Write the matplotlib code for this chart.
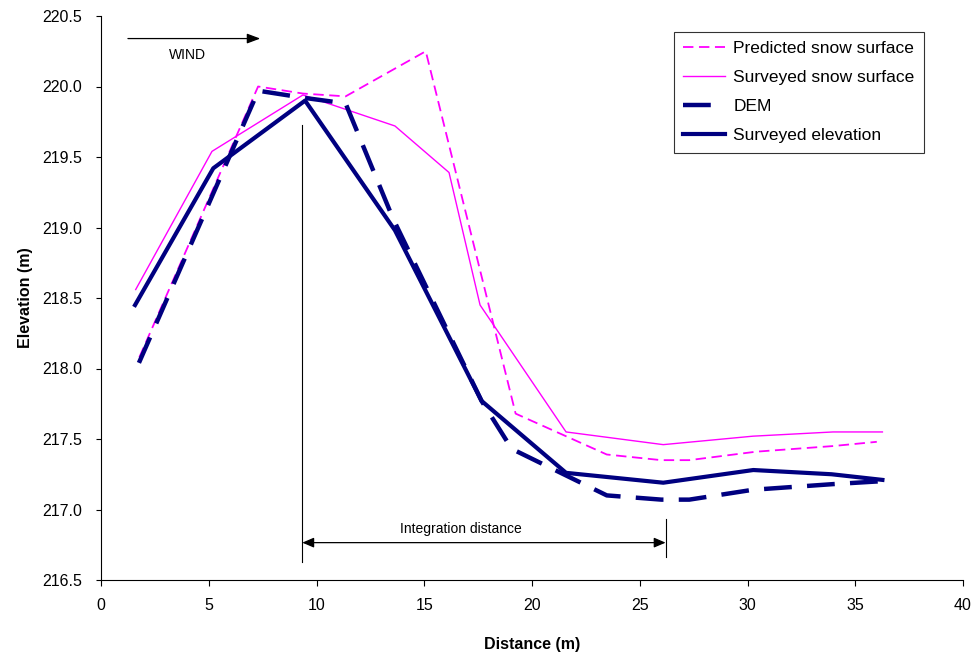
import matplotlib
matplotlib.use("Agg")
import matplotlib.pyplot as plt

plt.rcParams['font.family'] = ['Liberation Sans', 'DejaVu Sans']
plt.rcParams['lines.scale_dashes'] = False

# ---- data ----
pred_x = [1.78, 7.29, 9.37, 11.35, 15.07, 19.24, 23.47, 26.0, 27.3, 30.4, 33.97, 36.0]
pred_y = [218.08, 220.00, 219.95, 219.93, 220.25, 217.68, 217.39, 217.35, 217.35, 217.41, 217.45, 217.48]

snow_x = [1.61, 5.15, 9.37, 13.64, 16.15, 17.59, 21.58, 26.09, 30.25, 33.97, 36.26]
snow_y = [218.56, 219.54, 219.94, 219.72, 219.39, 218.45, 217.55, 217.46, 217.52, 217.55, 217.55]

dem_x = [1.76, 7.3, 9.4, 11.35, 13.56, 17.66, 19.06, 23.47, 26.0, 27.3, 30.25, 33.97, 36.15]
dem_y = [218.04, 219.97, 219.92, 219.88, 219.06, 217.77, 217.43, 217.10, 217.07, 217.07, 217.14, 217.18, 217.20]

elev_x = [1.58, 5.21, 9.47, 13.64, 17.66, 21.58, 26.09, 30.27, 33.9, 36.26]
elev_y = [218.45, 219.42, 219.90, 218.98, 217.77, 217.26, 217.19, 217.28, 217.25, 217.21]

series_labels = ["Predicted snow surface", "Surveyed snow surface", "DEM", "Surveyed elevation"]

x_ticks = [0, 5, 10, 15, 20, 25, 30, 35, 40]
y_ticks = [216.5, 217.0, 217.5, 218.0, 218.5, 219.0, 219.5, 220.0, 220.5]

integ_start, integ_end = 9.34, 26.2

MAGENTA = "#FF00FF"
NAVY = "#000080"

fig = plt.figure(figsize=(9.76, 6.58), dpi=100)
ax = fig.add_axes([101/976, 1 - 580/658, 862/976, 564/658])

ax.plot(pred_x, pred_y, color=MAGENTA, lw=1.3, linestyle=(0, (7.5, 4)), label=series_labels[0])
ax.plot(snow_x, snow_y, color=MAGENTA, lw=1.0, label=series_labels[1])
ax.plot(dem_x, dem_y, color=NAVY, lw=3.2, linestyle=(0, (20, 11)), label=series_labels[2])
ax.plot(elev_x, elev_y, color=NAVY, lw=3.0, label=series_labels[3])

ax.set_xlim(0, 40)
ax.set_ylim(216.5, 220.5)
ax.set_xticks(x_ticks)
ax.set_xticklabels([str(v) for v in x_ticks])
ax.set_yticks(y_ticks)
ax.set_yticklabels([f"{v:.1f}" for v in y_ticks])

for s in ["top", "right"]:
    ax.spines[s].set_visible(False)
for s in ["left", "bottom"]:
    ax.spines[s].set_linewidth(0.8)
    ax.spines[s].set_color("black")

ax.tick_params(axis="x", direction="out", length=4, width=0.8, labelsize=11.5, pad=9)
ax.tick_params(axis="y", direction="out", length=3.5, width=0.8, labelsize=11.5, pad=10)

ax.set_xlabel("Distance (m)", fontsize=11.5, fontweight="bold", labelpad=17)
ax.set_ylabel("Elevation (m)", fontsize=11.5, fontweight="bold", labelpad=7)

# annotations
ax.plot([integ_start, integ_start], [216.63, 219.73], color="black", lw=0.8)
ax.plot([integ_end, integ_end], [216.66, 216.93], color="black", lw=0.8)
ax.annotate("", xy=(integ_end, 216.765), xytext=(integ_start, 216.765),
            arrowprops=dict(arrowstyle="<|-|>,head_length=0.7,head_width=0.3",
                            color="black", lw=0.9, shrinkA=0, shrinkB=0))
ax.text((integ_start + integ_end) / 2 - 1.05, 216.86, "Integration distance",
        ha="center", va="center", fontsize=10)

ax.annotate("", xy=(7.39, 220.34), xytext=(1.25, 220.34),
            arrowprops=dict(arrowstyle="-|>,head_length=0.8,head_width=0.3",
                            color="black", lw=0.9, shrinkA=0, shrinkB=0))
ax.text(4.03, 220.22, "WIND", ha="center", va="center", fontsize=10)

leg = ax.legend(loc="upper right", bbox_to_anchor=(0.955, 0.972), fontsize=12.5,
                frameon=True, fancybox=False, shadow=False, handlelength=2.4,
                handletextpad=0.5, labelspacing=0.79, borderpad=0.55, borderaxespad=0)
leg.get_frame().set_edgecolor("black")
leg.get_frame().set_linewidth(0.8)

fig.savefig("out.png", dpi=100)
